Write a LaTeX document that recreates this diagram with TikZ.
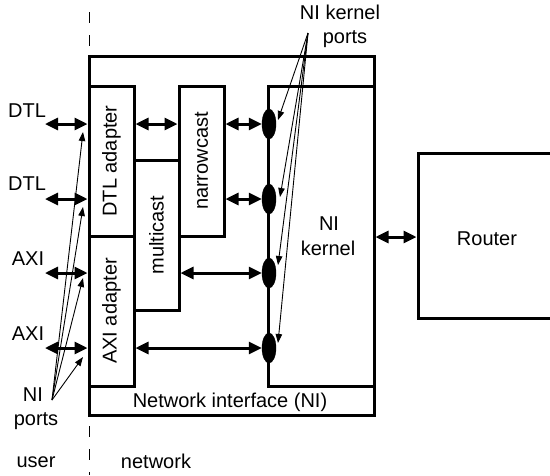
\documentclass[tikz,border=0pt]{standalone}
\usepackage{fontspec}
\setmainfont{Liberation Sans}
\usetikzlibrary{arrows.meta,shapes.geometric}
\begin{document}
\begin{tikzpicture}[x=1pt,y=-1pt,
  box/.style={draw,line width=3pt,inner sep=0pt,font=\fontsize{20}{24}\selectfont},
  dbl/.style={{Triangle[length=13pt,width=12pt]}-{Triangle[length=13pt,width=12pt]},line width=3pt},
  thinarr/.style={-{Triangle[length=9pt,width=6.5pt]},line width=0.9pt},
  lbl/.style={inner sep=0pt,anchor=base,font=\fontsize{20}{24}\selectfont},
  kport/.style={ellipse,fill=black,draw=black,minimum width=14pt,minimum height=30pt,inner sep=0pt}]
\useasboundingbox (0,0) rectangle (550,475);
\clip (0,0) rectangle (550,475);
% user/network border
\draw[line width=1pt,dash pattern=on 11pt off 12pt] (89,12) -- (89,475);
% boxes
\node[box,minimum width=285pt,minimum height=359pt] (ni) at (231.5,235.5) {};
\node[box,minimum width=106pt,minimum height=300pt] (kern) at (321,236) {};
\node[box,minimum width=45pt,minimum height=150pt] (dtl) at (111.5,161) {\rotatebox{90}{DTL adapter}};
\node[box,minimum width=45pt,minimum height=150pt] (axi) at (111.5,311) {\rotatebox{90}{AXI adapter}};
\node[box,minimum width=45pt,minimum height=150pt] (mc) at (156.5,235) {\rotatebox{90}{multicast}};
\node[box,minimum width=45pt,minimum height=150pt] (nc) at (201.5,161) {\rotatebox{90}{narrowcast}};
\node[box,minimum width=142pt,minimum height=165pt] (router) at (489,235.5) {};
% kernel ports
\node[kport] (p1) at (269,124) {};
\node[kport] (p2) at (269,199) {};
\node[kport] (p3) at (269,273) {};
\node[kport] (p4) at (269,348) {};
% texts
\node[lbl] (tdtl1) at (27,117) {DTL};
\node[lbl] (tdtl2) at (27,190) {DTL};
\node[lbl] (taxi1) at (28,265) {AXI};
\node[lbl] (taxi2) at (28,340) {AXI};
\node[lbl] (tni) at (33,401) {NI};
\node[lbl] (tports) at (36,425) {ports};
\node[lbl] (tuser) at (36,467) {user};
\node[lbl] (tnet) at (156,468) {network};
\node[lbl] (tnik) at (340,19) {NI kernel};
\node[lbl] (tkports) at (345,43) {ports};
\node[lbl] (tkni) at (329,230) {NI};
\node[lbl] (tkker) at (328,255) {kernel};
\node[lbl] (tnif) at (230,407) {Network interface (NI)};
\node[lbl] (trouter) at (487,245) {Router};
% user-side double arrows
\coordinate (d1) at (45,124);
\coordinate (d2) at (45,199);
\coordinate (a1) at (45,273);
\coordinate (a2) at (45,348);
\draw[dbl] (d1) -- (d1 -| dtl.west);
\draw[dbl] (d2) -- (d2 -| dtl.west);
\draw[dbl] (a1) -- (a1 -| axi.west);
\draw[dbl] (a2) -- (a2 -| axi.west);
% internal double arrows
\draw[dbl] (dtl.east |- p1) -- (nc.west |- p1);
\draw[dbl] (nc.east |- p1) -- (p1.west);
\draw[dbl] (nc.east |- p2) -- (p2.west);
\draw[dbl] (mc.east |- p3) -- (p3.west);
\draw[dbl] (axi.east |- p4) -- (p4.west);
\coordinate (rr) at (400,237);
\draw[dbl] (rr -| ni.east) -- (rr -| router.west);
% NI ports pointers
\coordinate (npo) at (52,400);
\coordinate (n1) at (83,132);
\coordinate (n2) at (83,207);
\coordinate (n3) at (83,278);
\coordinate (n4) at (83,357);
\foreach \t in {n1,n2,n3,n4} \draw[thinarr] (npo) -- (\t);
% NI kernel ports pointers
\coordinate (kpo) at (308,33);
\coordinate (k1) at (278,120);
\coordinate (k2) at (280,197);
\coordinate (k3) at (278,265);
\coordinate (k4) at (278,343);
\foreach \t in {k1,k2,k3,k4} \draw[thinarr] (kpo) -- (\t);
\end{tikzpicture}
\end{document}
